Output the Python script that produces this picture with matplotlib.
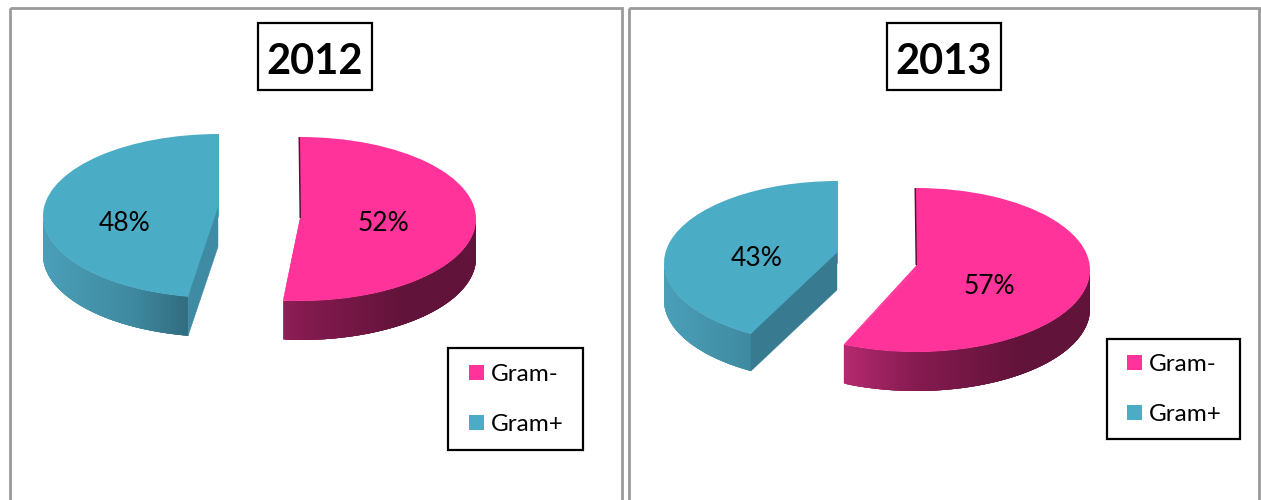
import numpy as np
import matplotlib
matplotlib.use("Agg")
import matplotlib.pyplot as plt
from matplotlib.collections import PolyCollection
from matplotlib.colors import to_rgb
from matplotlib.patches import Rectangle

plt.rcParams['font.family'] = ['Lato', 'DejaVu Sans']

categories = ['Gram-', 'Gram+']
years = ['2012', '2013']
values_2012 = [52, 48]
values_2013 = [57, 43]

PINK, BLUE = '#FF3399', '#4BACC6'
W, H = 1261, 500
RY = 82

fig = plt.figure(figsize=(W / 100, H / 100), dpi=100, facecolor='white')

bg = fig.add_axes([0, 0, 1, 1], zorder=0)
bg.set_xlim(0, W); bg.set_ylim(H, 0); bg.axis('off')


def interp(stops, x):
    xs = [s[0] for s in stops]
    cols = np.array([to_rgb(s[1]) for s in stops])
    return np.column_stack([np.interp(x, xs, cols[:, i]) for i in range(3)])


STOPS = [
    [(-0.45, '#B92B72'), (0.0, '#851B50'), (0.6, '#611339'), (1.0, '#611339')],
    [(-1.0, '#4A9FB8'), (-0.5, '#3F8AA0'), (-0.17, '#326C7E')],
]


def draw_chart(values, year, origin, rx, wedge_px, apex_px, persp, cut_cols, depth_px,
               label_px, title_x, frame, legend_xy, panel):
    # panel frame
    bg.add_patch(Rectangle((panel[0], 8), panel[1] - panel[0], H + 20, fill=False,
                           ec='#9A9A9A', lw=2.0))
    # title box
    bg.add_patch(Rectangle((title_x - 57, 22.5), 114, 67, fc='white', ec='black', lw=1.6))
    bg.text(title_x, 61.5, year, ha='center', va='center', fontsize=30,
            fontweight='bold', color='black')
    # legend box
    bg.add_patch(Rectangle((frame[0], frame[1]), frame[2], frame[3], fc='white',
                           ec='black', lw=1.6))

    cx, cy = origin
    ax = fig.add_axes([0, 0, 1, 1], zorder=1)
    ax.patch.set_alpha(0)
    wedges, _, autotexts = ax.pie(values, colors=[PINK, BLUE], startangle=90,
                                  counterclock=False, autopct='%d%%',
                                  pctdistance=0.5, radius=1,
                                  wedgeprops=dict(lw=0, zorder=4),
                                  textprops=dict(fontsize=19, color='black'))
    ax.set_aspect('auto')
    ax.set_xlim((0 - cx) / rx, (W - cx) / rx)
    ax.set_ylim((cy - H) / RY, cy / RY)
    ax.axis('off')

    ux = lambda p: (p - cx) / rx
    uy = lambda p: (cy - p) / RY

    for i, w in enumerate(wedges):
        ctr = (ux(wedge_px[i][0]), uy(wedge_px[i][1]))
        w.set_center(ctr)
        w.set_zorder(4)
        # perspective foreshortening moves the front edge of each slice slightly
        if i == 0:
            w.set_theta1(w.theta1 + persp[0])
        else:
            w.set_theta2(w.theta2 + persp[1])
        dep = depth_px[i] / RY
        t1, t2 = w.theta1 % 360, w.theta2 % 360
        if t2 <= t1:
            t2 += 360
        # lower (front) part of the outer rim; strips overlap so no seams show
        th = np.radians(np.linspace(t1, t2, 300))
        th = th[np.sin(th) <= 0.0]
        xs, ys = np.cos(th), np.sin(th)
        quads = []
        n = len(th)
        for j in range(n - 1):
            k = min(j + 4, n - 1)
            quads.append([(ctr[0] + xs[j], ctr[1] + ys[j]),
                          (ctr[0] + xs[k], ctr[1] + ys[k]),
                          (ctr[0] + xs[k], ctr[1] + ys[k] - dep),
                          (ctr[0] + xs[j], ctr[1] + ys[j] - dep)])
        cols = interp(STOPS[i], (xs[:-1] + xs[1:]) / 2)
        ax.add_collection(PolyCollection(quads, facecolors=cols, edgecolors='none',
                                         zorder=2))

        # flat faces where the wedge was cut
        ang_bottom = np.radians(w.theta1 if i == 0 else w.theta2)
        ang_top = np.radians(90)
        bot = (ctr[0] + np.cos(ang_bottom), ctr[1] + np.sin(ang_bottom))
        top = (ctr[0] + np.cos(ang_top), ctr[1] + np.sin(ang_top))
        apex = (ux(apex_px[i][0]), uy(apex_px[i][1]))
        if i == 0:
            ax.fill([apex[0], ctr[0], bot[0]], [apex[1], ctr[1], bot[1]],
                    color=PINK, lw=0.3, zorder=5)
            ax.fill([top[0], apex[0], apex[0] - 1.5 / rx, top[0] - 1.5 / rx],
                    [top[1], apex[1], apex[1], top[1]],
                    color=cut_cols[i], lw=0, zorder=5)
        else:
            ax.fill([apex[0], bot[0], bot[0], apex[0]],
                    [apex[1], bot[1], bot[1] - dep, apex[1] - dep],
                    color=cut_cols[i], lw=0.3, zorder=5)
            ax.fill([top[0], top[0] - 2 / rx, apex[0] - 1 / rx, apex[0] + 1 / rx,
                     apex[0] + 1 / rx],
                    [top[1], top[1], apex[1], apex[1], apex[1] - dep],
                    color=cut_cols[i], lw=0, zorder=3)

    for t, (px, py) in zip(autotexts, label_px):
        t.set_position((ux(px), uy(py)))
        t.set_zorder(6)

    leg = ax.legend(wedges, categories, loc='upper left',
                    bbox_to_anchor=(legend_xy[0] / W, 1 - legend_xy[1] / H),
                    bbox_transform=fig.transFigure, fontsize=17.5, frameon=False,
                    borderaxespad=0, borderpad=0, labelspacing=1.2,
                    handlelength=0.62, handleheight=0.62, handletextpad=0.27)
    leg.set_zorder(7)


draw_chart(values_2012, years[0], (260, 217), 176,
           wedge_px=[(300, 219), (219, 216)], apex_px=[(301, 218), (218, 208)],
           persp=(1.7, -2.9), cut_cols=['#5A1038', '#3F8BA3'], depth_px=[39, 39],
           label_px=[(383, 224), (125, 224)], title_x=315,
           frame=(447.5, 347.5, 135.5, 102.5), legend_xy=(469, 364), panel=(10, 622))
draw_chart(values_2013, years[1], (877, 265), 174,
           wedge_px=[(916, 270), (838, 263)], apex_px=[(917, 265), (837, 253)],
           persp=(0.7, -4.8), cut_cols=['#5A1038', '#387B90'], depth_px=[39, 37],
           label_px=[(989, 286), (757, 258)], title_x=944,
           frame=(1107, 338.5, 133, 100.5), legend_xy=(1127, 354), panel=(629, 1259))

fig.savefig('out.png', dpi=100, facecolor='white')
